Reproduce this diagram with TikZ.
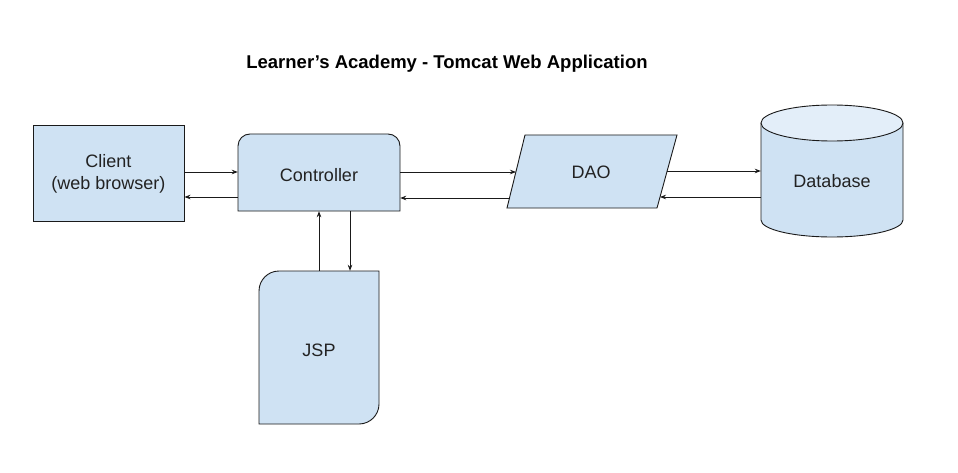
\documentclass[tikz,border=0pt]{standalone}
\usepackage{fontspec}
\setmainfont{Liberation Sans}
\usetikzlibrary{arrows.meta}
\definecolor{boxfill}{HTML}{CFE2F3}
\definecolor{topfill}{HTML}{E3EEF9}
\definecolor{edge}{HTML}{1A1A1A}
\definecolor{txt}{HTML}{222222}
\tikzset{
  shapeline/.style={draw=edge, line width=0.9pt, fill=boxfill},
  holder/.style={draw=none, inner sep=0pt},
  lbl/.style={inner sep=0pt, text=txt, font=\fontsize{18}{22}\selectfont, align=center},
  arr/.style={draw=edge, line width=0.8pt, -{Stealth[length=6pt,width=4.5pt]}}
}
\begin{document}
\begin{tikzpicture}[x=1pt,y=1pt]
\useasboundingbox (0,0) rectangle (958,472);
\fill[white] (0,0) rectangle (958,472);

% title
\node[inner sep=0pt, text=black, font=\bfseries\fontsize{18.5}{22}\selectfont] (title) at (447,408) {Learner’s Academy - Tomcat Web Application};

% Client
\node[rectangle, inner sep=0pt, minimum width=151pt, minimum height=96pt, shapeline] (client) at (108.5,299) {};
\node[lbl] (clienttext) at (108.5,298) {Client\\(web browser)};

% Controller
\draw[shapeline] (238,261) -- (238,326) arc[start angle=180,end angle=90,radius=12] -- (388,338) arc[start angle=90,end angle=0,radius=12] -- (400,261) -- cycle;
\node[holder, minimum width=162pt, minimum height=77pt] (ctrl) at (319,299.5) {};
\node[lbl] (ctrltext) at (319,297) {Controller};

% JSP
\draw[shapeline] (259,48) -- (259,181) arc[start angle=180,end angle=90,radius=20] -- (379,201) -- (379,68) arc[start angle=0,end angle=-90,radius=20] -- cycle;
\node[holder, minimum width=120pt, minimum height=153pt] (jsp) at (319,124.5) {};
\node[lbl] (jsptext) at (319,122) {JSP};

% DAO
\draw[shapeline] (507,264) -- (525,337) -- (677,337) -- (657,264) -- cycle;
\node[lbl] (dao) at (591,300) {DAO};
\coordinate (daoInTop) at (516,300);
\coordinate (daoOutBot) at (510,274);
\coordinate (daoOutTop) at (667,301);
\coordinate (daoInBot) at (660,275);

% Database
\draw[shapeline] (761,349) -- (761,252) arc[start angle=180,end angle=360,x radius=71,y radius=17] -- (903,349);
\draw[draw=edge, line width=0.9pt, fill=topfill] (832,349) ellipse [x radius=71, y radius=18];
\node[holder, minimum width=142pt, minimum height=96pt] (db) at (832,290) {};
\node[lbl] (dbtext) at (832,291) {Database};

% connectors
\draw[arr] (client.east |- 0,300) -- (ctrl.west |- 0,300);
\draw[arr] (ctrl.west |- 0,275) -- (client.east |- 0,275);
\draw[arr] (ctrl.east |- 0,300) -- (daoInTop);
\draw[arr] (daoOutBot) -- (ctrl.east |- 0,274);
\draw[arr] (daoOutTop) -- (db.west |- 0,301);
\draw[arr] (db.west |- 0,275) -- (daoInBot);
\draw[arr] (ctrl.south -| 350,0) -- (jsp.north -| 350,0);
\draw[arr] (jsp.north -| 319,0) -- (ctrl.south -| 319,0);
\end{tikzpicture}
\end{document}
